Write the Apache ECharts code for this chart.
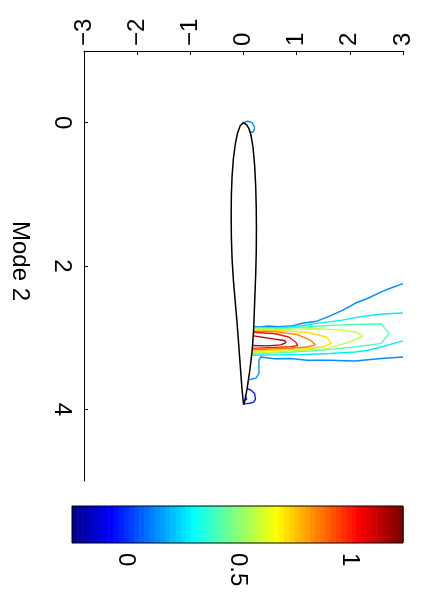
<!DOCTYPE html>
<html>
<head>
<meta charset="utf-8">
<script src="https://cdn.jsdelivr.net/npm/echarts@6/dist/echarts.min.js"></script>
<style>
  html, body { margin: 0; padding: 0; background: #fff; }
  #chart { width: 422px; height: 594px; }
</style>
</head>
<body>
<div id="chart"></div>
<script>
// Axis ticks
const spanTicks = [-3, -2, -1, 0, 1, 2, 3];
const chordTicks = [0, 2, 4];
const colorbarTicks = [0, 0.5, 1];
const colorRange = [-0.24, 1.24];

// Airfoil outline as [span, chord] pairs, leading edge -> trailing edge -> back
const airfoil = [
  [0.0, 0.0], [0.06, 0.03], [0.1, 0.08], [0.14, 0.17], [0.18, 0.35], [0.21, 0.6],
  [0.23, 0.9], [0.24, 1.2], [0.243, 1.5], [0.24, 1.8], [0.23, 2.1], [0.215, 2.4],
  [0.2, 2.7], [0.19, 2.9], [0.16, 3.2], [0.12, 3.45], [0.07, 3.7], [0.02, 3.9], [0.0, 3.93],
  [-0.03, 3.7], [-0.06, 3.4], [-0.09, 3.1], [-0.12, 2.8], [-0.155, 2.5], [-0.19, 2.2],
  [-0.215, 1.9], [-0.228, 1.6], [-0.232, 1.3], [-0.228, 1.0], [-0.215, 0.75], [-0.19, 0.5],
  [-0.15, 0.28], [-0.11, 0.14], [-0.06, 0.04], [0.0, 0.0]
];

// Contour levels of the mode field
const levels = [-0.02, 0.13, 0.27, 0.42, 0.57, 0.72, 0.87, 1.02, 1.17];

// Contour lines as polylines of [span, chord]
const trailingLoop = [[0.065, 3.71], [0.136, 3.73], [0.21, 3.78], [0.225, 3.86], [0.19, 3.9], [0.12, 3.915], [0.05, 3.92], [0.0, 3.93]];
const trailingCurl = [[0.03, 3.8], [0.06, 3.82], [0.06, 3.86], [0.02, 3.87]];
const leadingLoop = [[0.0, 0.0], [0.076, -0.02], [0.167, 0.0], [0.21, 0.07], [0.185, 0.13], [0.136, 0.13], [0.13, 0.12]];
const wake013Upper = [[0.19, 2.845], [0.3, 2.85], [0.47, 2.838], [0.65, 2.848], [0.89, 2.838], [1.13, 2.795], [1.38, 2.77], [1.62, 2.7], [1.86, 2.62], [2.1, 2.52], [2.34, 2.45], [2.59, 2.36], [2.8, 2.3], [3.0, 2.245]];
const wake013Lower = [[3.0, 3.27], [2.59, 3.29], [2.1, 3.325], [1.62, 3.315], [1.19, 3.315], [0.89, 3.29], [0.59, 3.295], [0.32, 3.27], [0.29, 3.315], [0.29, 3.5], [0.24, 3.56], [0.15, 3.58], [0.09, 3.585]];
const wake027Upper = [[0.19, 2.857], [0.65, 2.862], [0.89, 2.852], [1.13, 2.83], [1.38, 2.8], [1.62, 2.78], [1.86, 2.755], [2.1, 2.72], [2.34, 2.695], [2.59, 2.67], [3.0, 2.655]];
const wake027Lower = [[3.0, 3.045], [2.83, 3.08], [2.59, 3.13], [2.34, 3.175], [2.1, 3.2], [1.62, 3.22], [1.13, 3.235], [0.65, 3.24], [0.165, 3.245]];
const wake042 = [[0.19, 2.868], [0.53, 2.872], [0.89, 2.865], [1.38, 2.84], [1.98, 2.815], [2.59, 2.81], [2.74, 2.94], [2.59, 3.08], [2.1, 3.13], [1.68, 3.16], [1.38, 3.18], [0.89, 3.2], [0.53, 3.215], [0.165, 3.225]];
const wake057 = [[0.19, 2.88], [0.77, 2.885], [1.38, 2.875], [1.86, 2.895], [2.1, 2.92], [2.25, 2.97], [2.1, 3.03], [1.86, 3.09], [1.5, 3.16], [1.0, 3.18], [0.6, 3.2], [0.165, 3.205]];
const wake072 = [[0.19, 2.895], [0.6, 2.9], [1.19, 2.925], [1.56, 2.99], [1.65, 3.08], [1.5, 3.13], [1.19, 3.155], [0.6, 3.175], [0.165, 3.19]];
const wake087 = [[0.19, 2.91], [0.6, 2.915], [1.0, 2.955], [1.25, 3.03], [1.35, 3.1], [1.2, 3.13], [0.9, 3.145], [0.6, 3.155], [0.165, 3.17]];
const wake102 = [[0.19, 2.925], [0.6, 2.945], [0.85, 2.99], [0.98, 3.06], [1.02, 3.11], [0.9, 3.125], [0.6, 3.135], [0.165, 3.15]];
const wake117 = [[0.19, 2.975], [0.59, 3.02], [0.77, 3.04], [0.8, 3.07], [0.7, 3.1], [0.45, 3.115], [0.165, 3.11]];

// [level index, polyline]
const contours = [
  [0, trailingLoop], [0, trailingCurl], [1, leadingLoop],
  [1, wake013Upper], [1, wake013Lower], [2, wake027Upper], [2, wake027Lower],
  [3, wake042], [4, wake057], [5, wake072], [6, wake087], [7, wake102], [8, wake117]
];

// MATLAB-style jet colormap with 64 entries
function jet(m) {
  const n = Math.ceil(m / 4);
  const u = [];
  for (let k = 1; k <= n; k++) u.push(k / n);
  for (let k = 1; k < n; k++) u.push(1);
  for (let k = n; k >= 1; k--) u.push(k / n);
  const g0 = Math.ceil(n / 2) - (m % 4 === 1 ? 1 : 0);
  const cmap = [];
  for (let i = 0; i < m; i++) cmap.push([0, 0, 0]);
  for (let k = 0; k < u.length; k++) {
    const g = g0 + k, r = g + n, b = g - n;
    if (r >= 0 && r < m) cmap[r][0] = u[k];
    if (g >= 0 && g < m) cmap[g][1] = u[k];
    if (b >= 0 && b < m) cmap[b][2] = u[k];
  }
  return cmap.map(c => 'rgb(' + c.map(x => Math.round(x * 255)).join(',') + ')');
}
const cmap = jet(64);
function levelColor(v) {
  const p = (v - colorRange[0]) / (colorRange[1] - colorRange[0]);
  const i = Math.min(63, Math.max(0, Math.floor(p * 64)));
  return cmap[i];
}

const FONT = 'Liberation Sans, Arial, Helvetica, sans-serif';
const FS = 24;
const minusFmt = v => String(v).replace('-', '\u2212');

// Colorbar cells spanning the colour range
const cells = [];
const step = (colorRange[1] - colorRange[0]) / 64;
for (let i = 0; i < 64; i++) cells.push([colorRange[0] + i * step, colorRange[0] + (i + 1) * step, i]);

const series = contours.map(([li, pts]) => ({
  type: 'line', xAxisIndex: 0, yAxisIndex: 0, data: pts,
  showSymbol: false, symbol: 'none', silent: true, clip: true, animation: false,
  lineStyle: { color: levelColor(levels[li]), width: 1.4 }
}));
series.push({
  type: 'line', xAxisIndex: 0, yAxisIndex: 0, data: airfoil,
  showSymbol: false, symbol: 'none', silent: true, animation: false,
  lineStyle: { color: '#000', width: 1.5 }, z: 5
});
series.push({
  type: 'custom', xAxisIndex: 1, yAxisIndex: 1, data: cells, silent: true, animation: false,
  renderItem: (params, api) => {
    const p0 = api.coord([api.value(0), 1]);
    const p1 = api.coord([api.value(1), 0]);
    return {
      type: 'rect',
      shape: { x: p0[0], y: p0[1], width: p1[0] - p0[0] + 0.6, height: p1[1] - p0[1] },
      style: { fill: cmap[api.value(2)] }
    };
  }
});

const chart = echarts.init(document.getElementById('chart'), null, { renderer: 'canvas' });
chart.setOption({
  animation: false,
  backgroundColor: '#fff',
  grid: [
    { left: 72, top: 51, width: 331, height: 430, containLabel: false },
    { left: 72, top: 506, width: 331, height: 37, show: true, borderColor: '#000', borderWidth: 1, backgroundColor: 'transparent', z: 10 }
  ],
  xAxis: [
    {
      gridIndex: 0, type: 'value', position: 'top', min: -3, max: 3, interval: 1,
      axisLine: { show: true, onZero: false, lineStyle: { color: '#000', width: 1 } },
      axisTick: { show: true, inside: true, length: 4, lineStyle: { color: '#000' } },
      splitLine: { show: false },
      axisLabel: { rotate: -90, margin: 5, color: '#000', fontSize: FS, fontFamily: FONT, formatter: minusFmt, showMinLabel: true, showMaxLabel: true, padding: [6, 0, 0, 0] }
    },
    {
      gridIndex: 1, type: 'value', position: 'bottom', min: colorRange[0], max: colorRange[1],
      axisLine: { show: false },
      axisTick: { show: true, inside: true, length: 4, customValues: colorbarTicks, lineStyle: { color: '#000' } },
      splitLine: { show: false },
      axisLabel: { rotate: -90, margin: 10, color: '#000', fontSize: FS, fontFamily: FONT, customValues: colorbarTicks, padding: [6, 0, 0, 0] }
    }
  ],
  yAxis: [
    {
      gridIndex: 0, type: 'value', inverse: true, min: -1, max: 5,
      axisLine: { show: true, onZero: false, lineStyle: { color: '#000', width: 1 } },
      axisTick: { show: true, inside: true, length: 4, customValues: chordTicks, lineStyle: { color: '#000' } },
      splitLine: { show: false },
      axisLabel: { rotate: -90, margin: 10, color: '#000', fontSize: FS, fontFamily: FONT, customValues: chordTicks },
      name: 'Mode 2', nameLocation: 'middle', nameRotate: -90, nameGap: 52,
      nameTextStyle: { color: '#000', fontSize: FS, fontFamily: FONT, padding: [0, 10, 0, 0] }
    },
    {
      gridIndex: 1, type: 'value', min: 0, max: 1, show: false
    }
  ],
  series: series
});
</script>
</body>
</html>
